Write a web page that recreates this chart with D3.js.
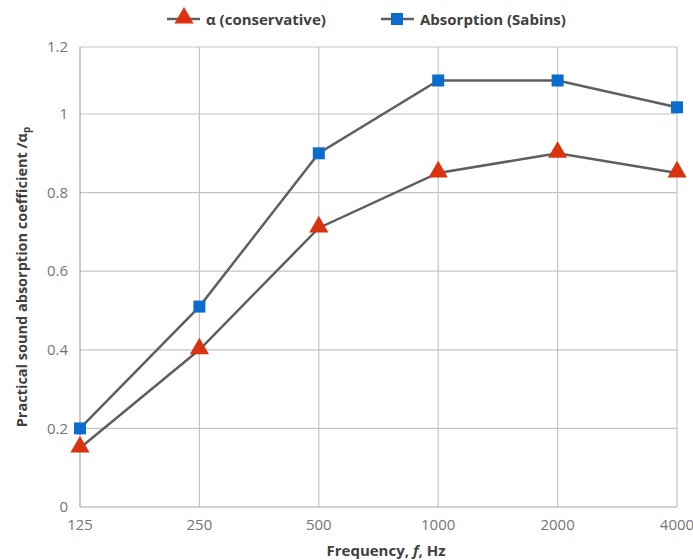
<!DOCTYPE html>
<html><head><meta charset="utf-8">
<script src="https://cdn.jsdelivr.net/npm/d3@7"></script>
<style>body{margin:0;background:#fff;}text{font-family:"Open Sans",Lato,sans-serif;}</style>
</head><body><svg id="c" width="693" height="560"></svg>
<script>
const categories = ["125","250","500","1000","2000","4000"];
const alphaValues = [0.15, 0.40, 0.71, 0.85, 0.90, 0.85];
const sabinsValues = [0.20, 0.51, 0.90, 1.10, 1.10, 1.02];
const yTicks = [0, 0.2, 0.4, 0.6, 0.8, 1, 1.2];

const svg = d3.select("#c");
const x = d3.scalePoint().domain(categories).range([80, 677]);
const y = d3.scaleLinear().domain([0, 1, 1.2]).range([507, 114, 47]);

// gridlines
svg.append("g").selectAll("line.h").data(yTicks.slice(1)).join("line")
  .attr("x1", 80).attr("x2", 677).attr("y1", d => y(d)).attr("y2", d => y(d))
  .attr("stroke", "#c4c4c4").attr("stroke-width", 1.2);
svg.append("g").selectAll("line.v").data(categories.slice(1)).join("line")
  .attr("x1", d => x(d)).attr("x2", d => x(d)).attr("y1", y(1.2)).attr("y2", y(0))
  .attr("stroke", "#c4c4c4").attr("stroke-width", 1.2);
// axes lines
svg.append("line").attr("x1", 80).attr("x2", 80).attr("y1", y(1.2)).attr("y2", y(0)).attr("stroke", "#a6a6a6").attr("stroke-width", 1.2);
svg.append("line").attr("x1", 80).attr("x2", 677).attr("y1", y(0)).attr("y2", y(0)).attr("stroke", "#a6a6a6").attr("stroke-width", 1.2);

// tick labels
svg.append("g").selectAll("text").data(yTicks).join("text")
  .attr("x", 68).attr("y", d => y(d)).attr("dy", "0.35em").attr("text-anchor", "end")
  .attr("fill", "#757575").attr("font-size", 15).text(d => d);
svg.append("g").selectAll("text").data(categories).join("text")
  .attr("x", d => x(d)).attr("y", 530).attr("text-anchor", "middle")
  .attr("fill", "#757575").attr("font-size", 15).text(d => d);

// axis titles
const xt = svg.append("text").attr("x", 386).attr("y", 556).attr("text-anchor", "middle")
  .attr("fill", "#404040").attr("font-size", 15).attr("font-weight", "bold");
xt.append("tspan").text("Frequency, ");
xt.append("tspan").attr("font-style", "italic").text("f");
xt.append("tspan").text(", Hz");
const yt = svg.append("text").attr("transform", "translate(27,277) rotate(-90)").attr("text-anchor", "middle")
  .attr("fill", "#404040").attr("font-size", 14.5).attr("font-weight", "bold");
yt.append("tspan").text("Practical sound absorption coefficient /α");
yt.append("tspan").attr("font-size", 10).attr("dy", 3).text("p");

// lines
const line = d3.line().x((d, i) => x(categories[i])).y(d => y(d));
[sabinsValues, alphaValues].forEach(vals => {
  svg.append("path").attr("d", line(vals)).attr("fill", "none")
    .attr("stroke", "#5f5f5f").attr("stroke-width", 2.5);
});
const tri = d3.symbol().type(d3.symbolTriangle).size(160);
svg.append("g").selectAll("path").data(alphaValues).join("path")
  .attr("d", tri).attr("transform", (d, i) => `translate(${x(categories[i])},${y(d) - 1})`)
  .attr("fill", "#d9330f");
svg.append("g").selectAll("rect").data(sabinsValues).join("rect")
  .attr("x", (d, i) => x(categories[i]) - 6).attr("y", d => y(d) - 6)
  .attr("width", 12).attr("height", 12).attr("fill", "#0a6ccf");

// legend
const lg = svg.append("g");
lg.append("line").attr("x1", 167).attr("x2", 200).attr("y1", 19).attr("y2", 19).attr("stroke", "#5f5f5f").attr("stroke-width", 2.5);
lg.append("path").attr("d", tri).attr("transform", "translate(184,18)").attr("fill", "#d9330f");
lg.append("text").attr("x", 206).attr("y", 24.5).attr("font-size", 15).attr("font-weight", "bold").attr("fill", "#404040").text("α (conservative)");
lg.append("line").attr("x1", 381).attr("x2", 414).attr("y1", 19).attr("y2", 19).attr("stroke", "#5f5f5f").attr("stroke-width", 2.5);
lg.append("rect").attr("x", 391).attr("y", 13).attr("width", 12).attr("height", 12).attr("fill", "#0a6ccf");
lg.append("text").attr("x", 420).attr("y", 24.5).attr("font-size", 15).attr("font-weight", "bold").attr("fill", "#404040").text("Absorption (Sabins)");
</script></body></html>
